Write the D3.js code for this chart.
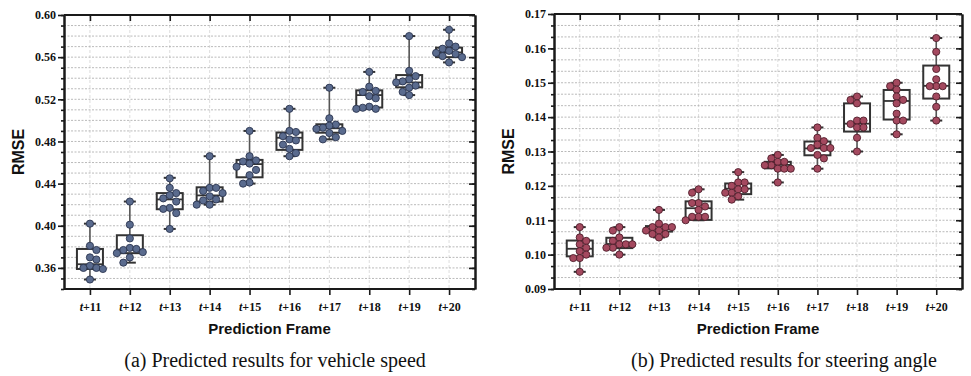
<!DOCTYPE html>
<html>
<head>
<meta charset="utf-8">
<script src="https://cdn.jsdelivr.net/npm/d3@7"></script>
<style>
  body { margin: 0; background: #fff; }
  text { fill: #111; }
</style>
</head>
<body>
<svg id="chart" width="971" height="376"></svg>
<script>
// prediction frames t+11 ... t+20
const categories = ["11", "12", "13", "14", "15", "16", "17", "18", "19", "20"];

// (a) vehicle speed RMSE
const speedTicks = [0.36, 0.40, 0.44, 0.48, 0.52, 0.56, 0.60];
const speedLo  = [0.349, 0.365, 0.397, 0.420, 0.440, 0.466, 0.482, 0.511, 0.524, 0.555];
const speedQ1  = [0.359, 0.374, 0.4157, 0.423, 0.446, 0.472, 0.4883, 0.5122, 0.5314, 0.560];
const speedMed = [0.3635, 0.3775, 0.425, 0.4288, 0.4585, 0.4835, 0.4925, 0.524, 0.536, 0.5645];
const speedQ3  = [0.378, 0.391, 0.431, 0.4365, 0.4625, 0.4885, 0.4963, 0.5285, 0.543, 0.569];
const speedHi  = [0.402, 0.423, 0.4455, 0.466, 0.490, 0.511, 0.531, 0.546, 0.580, 0.586];
const speedPoints = [
  [0.402, 0.381, 0.377, 0.370, 0.368, 0.362, 0.360, 0.360, 0.359, 0.349],
  [0.423, 0.401, 0.388, 0.379, 0.378, 0.377, 0.375, 0.374, 0.370, 0.365],
  [0.445, 0.436, 0.431, 0.429, 0.426, 0.423, 0.417, 0.416, 0.412, 0.397],
  [0.466, 0.436, 0.436, 0.433, 0.431, 0.428, 0.425, 0.424, 0.420, 0.420],
  [0.490, 0.466, 0.462, 0.461, 0.459, 0.456, 0.453, 0.448, 0.441, 0.440],
  [0.511, 0.490, 0.489, 0.485, 0.482, 0.481, 0.477, 0.473, 0.469, 0.466],
  [0.531, 0.502, 0.496, 0.495, 0.493, 0.492, 0.490, 0.488, 0.484, 0.482],
  [0.546, 0.532, 0.528, 0.527, 0.523, 0.521, 0.513, 0.512, 0.511, 0.511],
  [0.580, 0.547, 0.542, 0.539, 0.537, 0.536, 0.533, 0.531, 0.527, 0.524],
  [0.586, 0.573, 0.570, 0.568, 0.566, 0.564, 0.563, 0.561, 0.560, 0.555]
];

// (b) steering angle RMSE
const steerTicks = [0.09, 0.10, 0.11, 0.12, 0.13, 0.14, 0.15, 0.16, 0.17];
const steerLo  = [0.095, 0.100, 0.105, 0.110, 0.116, 0.121, 0.125, 0.130, 0.135, 0.139];
const steerQ1  = [0.0995, 0.1019, 0.1067, 0.1101, 0.1176, 0.1251, 0.1289, 0.1358, 0.1393, 0.1454];
const steerMed = [0.1017, 0.1031, 0.1074, 0.1135, 0.1192, 0.1261, 0.1309, 0.1381, 0.1447, 0.1491];
const steerQ3  = [0.1041, 0.1049, 0.1083, 0.1155, 0.1207, 0.1270, 0.1329, 0.1440, 0.1479, 0.1550];
const steerHi  = [0.108, 0.108, 0.113, 0.119, 0.124, 0.129, 0.137, 0.146, 0.150, 0.163];
const steerPoints = [
  [0.108, 0.105, 0.104, 0.103, 0.102, 0.101, 0.100, 0.099, 0.099, 0.095],
  [0.108, 0.107, 0.105, 0.104, 0.103, 0.103, 0.103, 0.102, 0.102, 0.100],
  [0.113, 0.109, 0.108, 0.108, 0.108, 0.107, 0.107, 0.106, 0.106, 0.105],
  [0.119, 0.118, 0.115, 0.115, 0.114, 0.113, 0.111, 0.111, 0.111, 0.110],
  [0.124, 0.121, 0.121, 0.120, 0.119, 0.119, 0.118, 0.118, 0.117, 0.116],
  [0.129, 0.128, 0.127, 0.127, 0.126, 0.126, 0.125, 0.125, 0.125, 0.121],
  [0.137, 0.134, 0.133, 0.132, 0.131, 0.131, 0.131, 0.129, 0.128, 0.125],
  [0.146, 0.145, 0.144, 0.139, 0.139, 0.138, 0.137, 0.137, 0.134, 0.130],
  [0.150, 0.149, 0.148, 0.146, 0.145, 0.144, 0.141, 0.139, 0.139, 0.135],
  [0.163, 0.159, 0.154, 0.151, 0.149, 0.149, 0.149, 0.146, 0.143, 0.139]
];

const svg = d3.select("#chart");
const serif = "'Liberation Serif', 'Times New Roman', 'DejaVu Serif', serif";
const sans = "'Liberation Sans', Arial, sans-serif";

// simple beeswarm: shift each dot sideways until it doesn't hit earlier dots
function dodge(vals, y, r) {
  const placed = [];
  return vals.map((v, k) => {
    const py = y(v);
    const sgn = k % 2 ? -1 : 1;
    const steps = [0, sgn, -sgn, 2 * sgn, -2 * sgn, 3 * sgn, -3 * sgn];
    let dx = 0;
    for (const s of steps) {
      const cx = s * r * 1.8;
      const hit = placed.some(p => (p[0] - cx) ** 2 + (p[1] - py) ** 2 < (r * 1.8) ** 2);
      if (!hit) { dx = cx; break; }
    }
    placed.push([dx, py]);
    return dx;
  });
}

function drawPanel(p) {
  const x = d3.scalePoint().domain(categories).range([p.left, p.right]).padding(0.65);
  const y = d3.scaleLinear().domain(p.domain).range([p.bottom, p.top]);
  const g = svg.append("g");

  const nMinor = Math.round((p.domain[1] - p.domain[0]) / p.minorStep);
  const minor = d3.range(0, nMinor + 1).map(i => p.domain[0] + i * p.minorStep);

  // grid
  g.append("g").selectAll("line").data(categories).join("line")
    .attr("x1", d => x(d)).attr("x2", d => x(d))
    .attr("y1", p.top).attr("y2", p.bottom)
    .attr("stroke", "#d4d4d4").attr("stroke-width", 0.8).attr("stroke-dasharray", "3,2");
  g.append("g").selectAll("line").data(minor.slice(1, -1)).join("line")
    .attr("x1", p.left).attr("x2", p.right)
    .attr("y1", d => y(d)).attr("y2", d => y(d))
    .attr("stroke", "#a8a8a8").attr("stroke-width", 0.8).attr("stroke-dasharray", "2,1.5");

  const boxW = 26, capW = 12, r = 3.6;
  const boxes = g.append("g").selectAll("g").data(categories).join("g")
    .attr("transform", d => `translate(${x(d)},0)`);

  boxes.append("line")
    .attr("y1", (d, i) => y(p.hi[i])).attr("y2", (d, i) => y(p.q3[i]))
    .attr("stroke", "#555").attr("stroke-width", 1.6);
  boxes.append("line")
    .attr("y1", (d, i) => y(p.q1[i])).attr("y2", (d, i) => y(p.lo[i]))
    .attr("stroke", "#555").attr("stroke-width", 1.6);
  boxes.append("line")
    .attr("x1", -capW / 2).attr("x2", capW / 2)
    .attr("y1", (d, i) => y(p.hi[i])).attr("y2", (d, i) => y(p.hi[i]))
    .attr("stroke", "#333").attr("stroke-width", 2);
  boxes.append("line")
    .attr("x1", -capW / 2).attr("x2", capW / 2)
    .attr("y1", (d, i) => y(p.lo[i])).attr("y2", (d, i) => y(p.lo[i]))
    .attr("stroke", "#333").attr("stroke-width", 2);
  boxes.append("rect")
    .attr("x", -boxW / 2).attr("width", boxW)
    .attr("y", (d, i) => y(p.q3[i]))
    .attr("height", (d, i) => y(p.q1[i]) - y(p.q3[i]))
    .attr("fill", "#fff").attr("stroke", "#333").attr("stroke-width", 2);
  boxes.append("line")
    .attr("x1", -boxW / 2).attr("x2", boxW / 2)
    .attr("y1", (d, i) => y(p.med[i])).attr("y2", (d, i) => y(p.med[i]))
    .attr("stroke", "#333").attr("stroke-width", 1.8);

  boxes.each(function (d, i) {
    const vals = p.points[i];
    const offs = dodge(vals, y, r);
    d3.select(this).selectAll("circle").data(vals).join("circle")
      .attr("cx", (v, j) => offs[j])
      .attr("cy", v => y(v))
      .attr("r", r)
      .attr("fill", p.fill).attr("stroke", p.stroke).attr("stroke-width", 0.9);
  });

  // axes
  const axisStyle = sel => {
    sel.select(".domain").attr("stroke", "#1a1a1a").attr("stroke-width", 2);
    sel.selectAll(".tick line").attr("stroke", "#1a1a1a").attr("stroke-width", 1.6);
  };

  g.append("g").attr("transform", `translate(${p.left},0)`)
    .call(d3.axisLeft(y).tickValues(minor).tickSize(3).tickSizeOuter(0).tickFormat(""))
    .call(axisStyle);
  const yl = g.append("g").attr("transform", `translate(${p.left},0)`)
    .call(d3.axisLeft(y).tickValues(p.ticks).tickSize(6).tickSizeOuter(0).tickFormat(d3.format(".2f")))
    .call(axisStyle);
  yl.selectAll("text").attr("font-family", serif).attr("font-weight", "bold")
    .attr("font-size", 12).attr("x", -8);

  g.append("g").attr("transform", `translate(${p.right},0)`)
    .call(d3.axisRight(y).tickValues(minor).tickSize(-3).tickSizeOuter(0).tickFormat(""))
    .call(axisStyle);
  g.append("g").attr("transform", `translate(${p.right},0)`)
    .call(d3.axisRight(y).tickValues(p.ticks).tickSize(-6).tickSizeOuter(0).tickFormat(""))
    .call(axisStyle);

  g.append("g").attr("transform", `translate(0,${p.top})`)
    .call(d3.axisTop(x).tickSize(-6).tickSizeOuter(0).tickFormat(""))
    .call(axisStyle)
    .select(".domain").attr("d", `M${p.left},0H${p.right}`);

  const xb = g.append("g").attr("transform", `translate(0,${p.bottom})`)
    .call(d3.axisBottom(x).tickSize(6).tickSizeOuter(0).tickFormat(""))
    .call(axisStyle);
  xb.select(".domain").attr("d", `M${p.left},0H${p.right}`);
  const lab = xb.selectAll(".tick").append("text")
    .attr("y", 22).attr("text-anchor", "middle")
    .attr("font-family", serif).attr("font-weight", "bold").attr("font-size", 12)
    .attr("fill", "#111");
  lab.append("tspan").attr("font-style", "italic").text("t");
  lab.append("tspan").text(d => "+" + d);

  // titles
  g.append("text")
    .attr("transform", `translate(${p.left - 40},${(p.top + p.bottom) / 2}) rotate(-90)`)
    .attr("text-anchor", "middle")
    .attr("font-family", sans).attr("font-weight", "bold").attr("font-size", 16)
    .text("RMSE");
  g.append("text")
    .attr("x", (p.left + p.right) / 2).attr("y", 334)
    .attr("text-anchor", "middle")
    .attr("font-family", sans).attr("font-weight", "bold").attr("font-size", 15)
    .text("Prediction Frame");
  g.append("text")
    .attr("x", p.captionX).attr("y", 367)
    .attr("text-anchor", "middle")
    .attr("font-family", serif).attr("font-size", 20)
    .text(p.caption);
}

drawPanel({
  left: 64, right: 475, top: 15, bottom: 289,
  domain: [0.34, 0.60], minorStep: 0.01, ticks: speedTicks,
  lo: speedLo, q1: speedQ1, med: speedMed, q3: speedQ3, hi: speedHi, points: speedPoints,
  fill: "#5a6b8e", stroke: "#2b3550",
  caption: "(a) Predicted results for vehicle speed", captionX: 275
});

drawPanel({
  left: 554, right: 962, top: 14, bottom: 289,
  domain: [0.09, 0.17], minorStep: 0.01 / 3, ticks: steerTicks,
  lo: steerLo, q1: steerQ1, med: steerMed, q3: steerQ3, hi: steerHi, points: steerPoints,
  fill: "#a4495f", stroke: "#4f1e2b",
  caption: "(b) Predicted results for steering angle", captionX: 784
});
</script>
</body>
</html>
